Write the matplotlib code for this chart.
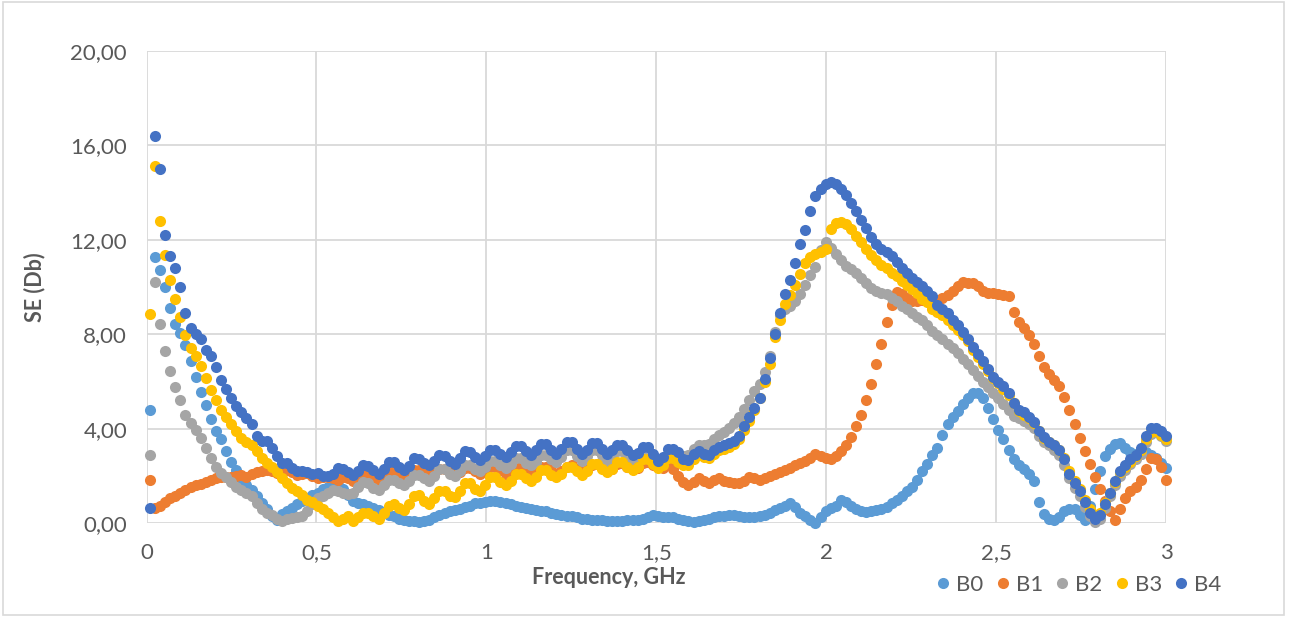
import numpy as np
import matplotlib
matplotlib.use("Agg")
import matplotlib.pyplot as plt
from matplotlib.patches import Rectangle
from matplotlib.lines import Line2D

# ---------------- data ----------------
freq_ghz = np.linspace(0.01, 3.0, 201)

series_names = ["B0", "B1", "B2", "B3", "B4"]

b0 = [4.79, 11.26, 10.72, 10.0, 9.1, 8.45, 8.05, 7.55, 6.85, 6.2,
      5.55, 5.0, 4.4, 3.9, 3.55, 3.05, 2.6, 2.25, 1.9, 1.6,
      1.4, 1.15, 0.85, 0.6, 0.3, 0.15, 0.4, 0.5, 0.65, 0.8,
      0.95, 1.05, 1.2, 1.3, 1.45, 1.55, 1.6, 1.6, 1.45, 1.2,
      0.95, 0.85, 0.8, 0.75, 0.65, 0.55, 0.45, 0.35, 0.3, 0.2,
      0.15, 0.1, 0.08, 0.05, 0.1, 0.15, 0.25, 0.35, 0.45, 0.5,
      0.55, 0.6, 0.7, 0.75, 0.85, 0.85, 0.9, 0.95, 0.95, 0.9,
      0.85, 0.8, 0.75, 0.7, 0.65, 0.6, 0.55, 0.5, 0.5, 0.45,
      0.4, 0.35, 0.3, 0.3, 0.25, 0.2, 0.2, 0.15, 0.15, 0.12,
      0.1, 0.1, 0.08, 0.1, 0.12, 0.15, 0.15, 0.2, 0.28, 0.35,
      0.3, 0.28, 0.28, 0.25, 0.2, 0.15, 0.1, 0.07, 0.1, 0.15,
      0.2, 0.25, 0.3, 0.3, 0.35, 0.35, 0.3, 0.28, 0.25, 0.28,
      0.3, 0.35, 0.45, 0.55, 0.65, 0.75, 0.85, 0.7, 0.45, 0.3,
      0.15, 0.0, 0.25, 0.5, 0.65, 0.75, 1.0, 0.9, 0.75, 0.6,
      0.5, 0.48, 0.5, 0.55, 0.6, 0.7, 0.85, 1.0, 1.15, 1.35,
      1.55, 1.85, 2.2, 2.5, 2.9, 3.2, 3.75, 4.2, 4.5, 4.75,
      5.05, 5.3, 5.5, 5.5, 5.3, 4.9, 4.4, 3.95, 3.55, 3.1,
      2.7, 2.45, 2.3, 2.1, 1.8, 0.9, 0.4, 0.2, 0.15, 0.28,
      0.5, 0.6, 0.6, 0.35, 0.15, 0.75, 1.45, 2.2, 2.85, 3.15,
      3.35, 3.4, 3.2, 3.0, 2.95, 2.95, 3.0, 2.9, 2.75, 2.55,
      2.35]

b1 = [1.83, 0.63, 0.75, 0.9, 1.06, 1.15, 1.3, 1.4, 1.55, 1.6,
      1.65, 1.75, 1.85, 1.9, 1.97, 1.97, 1.95, 2.0, 2.05, 1.95,
      2.1, 2.15, 2.2, 2.25, 2.2, 2.12, 2.2, 2.25, 2.15, 2.05,
      2.08, 2.12, 2.0, 1.9, 1.95, 1.97, 1.9, 1.85, 1.95, 1.9,
      1.8, 1.9, 2.1, 2.1, 1.95, 1.85, 2.0, 2.2, 2.2, 2.05,
      1.95, 2.05, 2.25, 2.25, 2.1, 2.0, 2.1, 2.3, 2.3, 2.15,
      2.05, 2.15, 2.35, 2.35, 2.2, 2.1, 2.2, 2.4, 2.4, 2.25,
      2.1, 2.2, 2.4, 2.4, 2.25, 2.1, 2.2, 2.4, 2.4, 2.25,
      2.1, 2.2, 2.4, 2.45, 2.3, 2.15, 2.25, 2.45, 2.5, 2.35,
      2.2, 2.3, 2.5, 2.55, 2.4, 2.3, 2.35, 2.55, 2.6, 2.45,
      2.4, 2.35, 2.5, 2.3, 2.0, 1.75, 1.6, 1.75, 1.9, 1.8,
      1.7, 1.85, 1.9, 1.8, 1.75, 1.7, 1.7, 1.8, 1.95, 1.9,
      1.85, 1.9, 2.0, 2.1, 2.15, 2.25, 2.35, 2.45, 2.55, 2.65,
      2.75, 2.95, 2.85, 2.75, 2.7, 2.85, 3.05, 3.3, 3.65, 4.1,
      4.6, 5.2, 5.9, 6.75, 7.6, 8.5, 9.25, 9.8, 9.7, 9.55,
      9.4, 9.4, 9.45, 9.45, 9.4, 9.45, 9.55, 9.65, 9.85, 10.05,
      10.2, 10.15, 10.15, 10.05, 9.85, 9.75, 9.75, 9.7, 9.65, 9.6,
      8.95, 8.5, 8.25, 7.95, 7.6, 7.1, 6.6, 6.3, 6.05, 5.8,
      5.35, 4.8, 4.2, 3.6, 3.05, 2.5, 1.95, 1.45, 0.95, 0.5,
      0.15, 0.6, 1.05, 1.35, 1.55, 1.85, 2.3, 2.75, 2.7, 2.4,
      1.85]

b2 = [2.9, 10.2, 8.42, 7.29, 6.44, 5.78, 5.22, 4.58, 4.23, 3.95,
      3.6, 3.2, 2.78, 2.4, 2.12, 1.95, 1.75, 1.55, 1.4, 1.3,
      1.15, 0.85, 0.6, 0.45, 0.35, 0.2, 0.1, 0.2, 0.22, 0.25,
      0.3, 0.5, 0.8, 1.05, 1.15, 1.3, 1.4, 1.35, 1.3, 1.25,
      1.3, 1.55, 1.75, 1.7, 1.5, 1.4, 1.6, 1.85, 1.85, 1.7,
      1.6, 1.8, 2.05, 2.05, 1.9, 1.8, 2.0, 2.3, 2.3, 2.1,
      2.0, 2.2, 2.45, 2.45, 2.3, 2.2, 2.4, 2.65, 2.65, 2.45,
      2.35, 2.5, 2.75, 2.75, 2.55, 2.45, 2.6, 2.9, 2.9, 2.7,
      2.6, 2.8, 3.1, 3.1, 2.85, 2.65, 2.85, 3.1, 3.1, 2.9,
      2.65, 2.8, 3.05, 3.05, 2.85, 2.6, 2.75, 3.0, 3.0, 2.8,
      2.6, 2.7, 2.95, 3.0, 2.95, 2.85, 2.9, 3.15, 3.3, 3.3,
      3.35, 3.55, 3.75, 3.85, 4.05, 4.25, 4.5, 4.85, 5.2, 5.6,
      5.9, 6.4, 7.1, 8.1, 8.8, 9.05, 9.2, 9.4, 9.7, 10.1,
      10.5, 10.85, 11.55, 11.9, 11.65, 11.4, 11.15, 10.9, 10.75, 10.6,
      10.4, 10.15, 9.95, 9.85, 9.75, 9.7, 9.55, 9.4, 9.2, 9.05,
      8.9, 8.75, 8.6, 8.4, 8.15, 7.95, 7.8, 7.6, 7.4, 7.2,
      6.95, 6.75, 6.5, 6.25, 6.0, 5.75, 5.5, 5.3, 5.05, 4.8,
      4.55, 4.45, 4.35, 4.2, 4.05, 3.7, 3.45, 3.3, 3.1, 2.9,
      2.45, 1.9, 1.5, 1.15, 0.7, 0.3, 0.07, 0.2, 0.65, 1.15,
      1.6, 2.0, 2.25, 2.5, 2.7, 2.95, 3.45, 3.8, 3.85, 3.7,
      3.5]

b3 = [8.84, 15.1, 12.8, 11.35, 10.3, 9.5, 8.75, 7.95, 7.4, 7.1,
      6.65, 6.15, 5.65, 5.2, 4.8, 4.5, 4.2, 3.9, 3.6, 3.45,
      3.3, 3.05, 2.75, 2.55, 2.4, 2.15, 1.9, 1.7, 1.5, 1.35,
      1.2, 1.0, 0.9, 0.75, 0.6, 0.45, 0.25, 0.1, 0.2, 0.3,
      0.1, 0.25, 0.45, 0.42, 0.3, 0.2, 0.45, 0.75, 0.8, 0.65,
      0.55, 0.8, 1.15, 1.2, 0.95, 0.8, 1.05, 1.35, 1.35, 1.15,
      1.1, 1.35, 1.7, 1.7, 1.45, 1.35, 1.6, 1.95, 1.95, 1.75,
      1.6, 1.8, 2.1, 2.1, 1.9, 1.8, 1.95, 2.25, 2.25, 2.05,
      1.95, 2.1, 2.4, 2.4, 2.2, 2.05, 2.2, 2.5, 2.5, 2.3,
      2.15, 2.3, 2.6, 2.6, 2.4, 2.25, 2.4, 2.7, 2.7, 2.5,
      2.35, 2.45, 2.75, 2.75, 2.6, 2.45, 2.45, 2.7, 2.9, 2.8,
      2.75, 2.95, 3.1, 3.15, 3.25, 3.35, 3.55, 3.95, 4.35, 4.8,
      5.3, 6.0, 6.75, 7.9, 8.6, 9.3, 9.65, 10.1, 10.55, 11.0,
      11.25, 11.4, 11.5, 11.6, 12.45, 12.7, 12.75, 12.65, 12.45, 12.15,
      11.9, 11.6, 11.35, 11.15, 10.95, 10.8, 10.6, 10.45, 10.25, 10.1,
      9.9, 9.75, 9.5, 9.35, 9.05, 8.95, 8.8, 8.6, 8.4, 8.2,
      7.95, 7.7, 7.35, 7.05, 6.75, 6.45, 6.15, 5.95, 5.7, 5.45,
      5.1, 4.75, 4.6, 4.45, 4.25, 3.9, 3.6, 3.45, 3.3, 3.1,
      2.75, 2.2, 1.8, 1.45, 1.0, 0.6, 0.35, 0.45, 0.85, 1.3,
      1.75, 2.15, 2.4, 2.6, 2.85, 3.1, 3.55, 3.85, 3.9, 3.75,
      3.55]

b4 = [0.66, 16.4, 15.0, 12.2, 11.3, 10.8, 10.0, 8.9, 8.25, 8.0,
      7.8, 7.35, 7.1, 6.6, 6.05, 5.7, 5.3, 4.95, 4.7, 4.45,
      4.2, 3.7, 3.5, 3.5, 3.2, 2.85, 2.55, 2.55, 2.35, 2.2,
      2.2, 2.15, 2.1, 2.12, 2.02, 2.0, 2.1, 2.33, 2.3, 2.15,
      2.03, 2.2, 2.45, 2.42, 2.25, 2.1, 2.3, 2.6, 2.58, 2.4,
      2.24, 2.42, 2.76, 2.74, 2.55, 2.45, 2.62, 2.88, 2.86, 2.65,
      2.52, 2.75, 3.05, 3.02, 2.82, 2.67, 2.85, 3.11, 3.1, 2.92,
      2.8, 3.0, 3.28, 3.29, 3.05, 2.87, 3.1, 3.35, 3.36, 3.12,
      2.94, 3.15, 3.42, 3.43, 3.15, 2.94, 3.12, 3.4, 3.41, 3.15,
      2.94, 3.1, 3.33, 3.32, 3.1, 2.87, 2.98, 3.22, 3.22, 2.95,
      2.65, 2.8, 3.15, 3.15, 3.0, 2.7, 2.68, 2.95, 3.05, 2.95,
      2.89, 3.1, 3.25, 3.3, 3.4, 3.5, 3.7, 4.1, 4.5, 4.9,
      5.3, 6.1, 7.0, 8.0, 8.9, 9.7, 10.3, 11.0, 11.8, 12.4,
      13.2, 13.85, 14.15, 14.35, 14.45, 14.35, 14.15, 13.9, 13.55, 13.2,
      12.85, 12.5, 12.1, 11.8, 11.6, 11.5, 11.3, 11.05, 10.8, 10.6,
      10.4, 10.2, 10.05, 9.85, 9.6, 9.25, 9.05, 8.9, 8.6, 8.4,
      8.1, 7.8, 7.45, 7.15, 6.85, 6.55, 6.2, 6.0, 5.8, 5.5,
      5.1, 4.8, 4.7, 4.5, 4.3, 3.9, 3.65, 3.45, 3.3, 3.1,
      2.7, 2.1, 1.7, 1.35, 0.9, 0.45, 0.2, 0.35, 0.8, 1.3,
      1.8, 2.2, 2.45, 2.7, 2.9, 3.2, 3.7, 4.05, 4.05, 3.9,
      3.7]

x_ticks = [0, 0.5, 1, 1.5, 2, 2.5, 3]
x_tick_labels = ["0", "0,5", "1", "1,5", "2", "2,5", "3"]
y_ticks = [0, 4, 8, 12, 16, 20]
y_tick_labels = ["0,00", "4,00", "8,00", "12,00", "16,00", "20,00"]

colors = ["#5B9BD5", "#ED7D31", "#A5A5A5", "#FFC000", "#4472C4"]
text_color = "#595959"
grid_color = "#D9D9D9"

plt.rcParams['font.family'] = ['Lato', 'DejaVu Sans']

W, H = 1300, 617
fig = plt.figure(figsize=(W / 100, H / 100), dpi=100)
fig.patch.set_facecolor("white")

px0, px1 = 146.5, 1166.0
py_bottom, py_top = 523.3, 50.7
ax = fig.add_axes([px0 / W, 1 - py_bottom / H, (px1 - px0) / W, (py_bottom - py_top) / H])

all_series = [b0, b1, b2, b3, b4]
for name, vals, c in zip(series_names, all_series, colors):
    ax.plot(freq_ghz, vals, linestyle="none", marker="o", markersize=8.0,
            markeredgewidth=0, color=c, label=name, clip_on=False, zorder=3)

ax.set_xlim(0, 3)
ax.set_ylim(0, 20)
ax.set_xticks(x_ticks)
ax.set_xticklabels(x_tick_labels)
ax.set_yticks(y_ticks)
ax.set_yticklabels(y_tick_labels)
ax.grid(True, color=grid_color, linewidth=1.3)
ax.set_axisbelow(True)
for s in ax.spines.values():
    s.set_visible(False)
ax.tick_params(axis="both", length=0, labelcolor=text_color, labelsize=16)
ax.tick_params(axis="x", pad=14)
ax.tick_params(axis="y", pad=14)

fig.text(609 / W, 1 - 578 / H, "Frequency, GHz", ha="center", va="center",
         fontsize=15.5, fontweight="bold", color=text_color)
fig.text(35 / W, 1 - 287 / H, "SE (Db)", ha="center", va="center", rotation=90,
         fontsize=15.5, fontweight="bold", color=text_color)

handles = [Line2D([], [], linestyle="none", marker="o", markersize=8.0,
                  markeredgewidth=0, color=c) for c in colors]
fig.legend(handles, series_names, loc="center", bbox_to_anchor=(1079 / W, 1 - 585 / H),
           ncol=5, frameon=False, handlelength=0.6, handletextpad=0.3,
           columnspacing=0.55, fontsize=16, labelcolor=text_color)

fig.add_artist(Rectangle((3 / W, 2 / H), (1284 - 3) / W, (615 - 2) / H,
                         transform=fig.transFigure, fill=False,
                         edgecolor=grid_color, linewidth=1.2))

fig.savefig("out.png", dpi=100)
